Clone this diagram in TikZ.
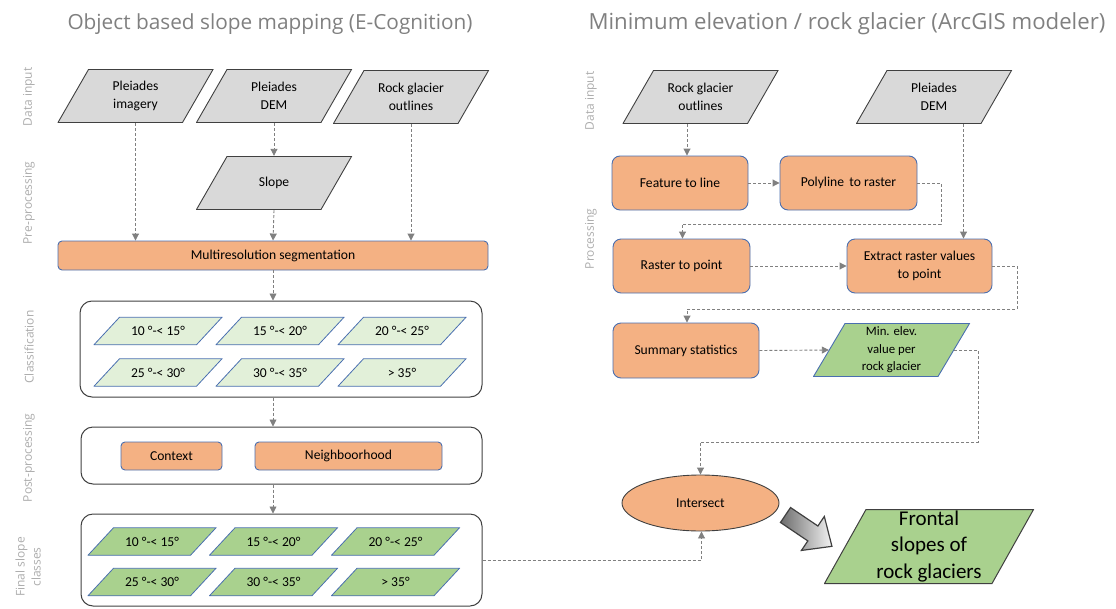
\documentclass[tikz,border=0pt]{standalone}
\usepackage{fontspec}
\setmainfont{Carlito}
\newfontfamily\headfont{Open Sans}
\usetikzlibrary{shapes.geometric,arrows.meta,positioning}

\definecolor{procfill}{HTML}{F4B183}
\definecolor{procdraw}{HTML}{4A6FB0}
\definecolor{paleclass}{HTML}{E2F0D9}
\definecolor{finalclass}{HTML}{A9D18E}
\definecolor{datafill}{HTML}{D9D9D9}
\definecolor{darkline}{HTML}{404040}
\definecolor{flowgray}{HTML}{808080}

\newcommand{\fsz}[2]{\fontsize{#1}{#2}\selectfont}

\tikzset{
  leanby/.store in=\leanlen, leanby=31pt,
  slabpaint/.style={draw=darkline, fill=datafill, line width=0.9pt},
  slab/.style={rectangle, inner sep=0pt, align=center,
    path picture={\path[slabpaint]
      ([xshift=\leanlen, yshift=-0.5pt]path picture bounding box.north west) --
      ([xshift=-0.5pt, yshift=-0.5pt]path picture bounding box.north east) --
      ([xshift=-\leanlen, yshift=0.5pt]path picture bounding box.south east) --
      ([xshift=0.5pt, yshift=0.5pt]path picture bounding box.south west) -- cycle;}},
  datain/.style={slab, leanby=31pt, minimum width=156pt, minimum height=54pt,
    font=\fsz{13.6}{18}},
  slopecls/.style={slab, leanby=26pt, minimum width=129pt, minimum height=28.5pt,
    font=\fsz{13.6}{16},
    slabpaint/.style={draw=procdraw, fill=paleclass, line width=0.8pt}},
  finalcls/.style={slopecls,
    slabpaint/.style={draw=procdraw, fill=finalclass, line width=0.8pt}},
  proc/.style={rectangle, rounded corners=8pt, draw=procdraw, fill=procfill,
    line width=0.9pt, inner sep=0pt, align=center, font=\fsz{13.6}{18}},
  holder/.style={rectangle, rounded corners=12pt, draw=darkline, line width=1pt},
  lane/.style={rotate=90, text=gray!65, font=\headfont\fsz{12}{16}, align=center},
  headline/.style={text=gray, font=\headfont\fsz{20.8}{24}},
  flow/.style={draw=flowgray, line width=0.9pt, dash pattern=on 3pt off 2pt,
    -{Triangle[length=7pt,width=7pt]}},
}

\begin{document}
\begin{tikzpicture}[x=1pt, y=-1pt]
    \useasboundingbox (0,0) rectangle (1116,608);

    % titles and lanes
    \node[headline] (titleL) at (270,24) {Object based slope mapping (E-Cognition)};
    \node[headline, font=\headfont\fsz{22.2}{24}] (titleR) at (847,24) {Minimum elevation / rock glacier (ArcGIS modeler)};
    \node[lane] (laneData) at (29,97) {Data input};
    \node[lane] (lanePre) at (29,203) {Pre-processing};
    \node[lane] (laneCls) at (29,347) {Classification};
    \node[lane] (lanePost) at (29,458) {Post-processing};
    \node[lane] (laneFin) at (28,567) {Final slope\\classes};
    \node[lane] (laneDataR) at (591,101) {Data input};
    \node[lane] (laneProc) at (591,239) {Processing};

    % E-Cognition side
    \node[datain] (imgL) at (135.5,96) {Pleiades\\imagery};
    \node[datain] (demL) at (274,96) {Pleiades\\DEM};
    \node[datain] (outL) at (411,97) {Rock glacier\\outlines};
    \node[datain] (slope) at (274,183) {Slope};
    \node[proc, rounded corners=4pt, minimum width=430pt, minimum height=29pt] (seg) at (273,255.5) {Multiresolution segmentation};

    \node[holder, minimum width=402pt, minimum height=96pt] (cls) at (281,349) {};
    \node[slopecls] (c1) at (158,331) {10 °-< 15°};
    \node[slopecls] (c2) at (280,331) {15 °-< 20°};
    \node[slopecls] (c3) at (402,331) {20 °-< 25°};
    \node[slopecls] (c4) at (158,372.5) {25 °-< 30°};
    \node[slopecls] (c5) at (280,372.5) {30 °-< 35°};
    \node[slopecls] (c6) at (402,372.5) {> 35°};

    \node[holder, minimum width=401pt, minimum height=57pt] (post) at (281.5,455.5) {};
    \node[proc, rounded corners=4pt, minimum width=101pt, minimum height=28pt] (ctx) at (171.5,456) {Context};
    \node[proc, rounded corners=4pt, minimum width=187pt, minimum height=28pt] (nbh) at (348.5,456) {Neighboorhood};

    \node[holder, minimum width=401pt, minimum height=92pt] (fin) at (281.5,560) {};
    \node[finalcls] (f1) at (152,541.5) {10 °-< 15°};
    \node[finalcls] (f2) at (273.5,541.5) {15 °-< 20°};
    \node[finalcls] (f3) at (395.5,541.5) {20 °-< 25°};
    \node[finalcls] (f4) at (152,582) {25 °-< 30°};
    \node[finalcls] (f5) at (273.5,582) {30 °-< 35°};
    \node[finalcls] (f6) at (395.5,582) {> 35°};

    % ArcGIS side
    \node[datain] (outR) at (700.5,97) {Rock glacier\\outlines};
    \node[datain] (demR) at (934,97) {Pleiades\\DEM};
    \node[proc, minimum width=136pt, minimum height=54pt] (feat) at (680,183) {Feature to line};
    \node[proc, minimum width=137pt, minimum height=54pt] (poly) at (848.5,183) {Polyline\, to raster};
    \node[proc, minimum width=137pt, minimum height=54pt] (rast) at (681.5,266) {Raster to point};
    \node[proc, minimum width=145pt, minimum height=54pt] (ext) at (919.5,266) {Extract raster values\\to point};
    \node[proc, minimum width=146pt, minimum height=55pt] (summ) at (686,350.5) {Summary statistics};
    \node[datain, leanby=32pt, minimum width=157pt, font=\fsz{12.8}{17.5},
      slabpaint/.style={draw=procdraw, fill=finalclass, line width=0.9pt}] (minel) at (891.5,350) {Min. elev.\\value per\\rock glacier};
    \node[ellipse, draw=darkline, fill=procfill, line width=0.9pt, minimum width=157pt, minimum height=56pt, font=\fsz{13.6}{18}] (isect) at (700.5,503) {Intersect};
    \node[datain, leanby=42pt, minimum width=210pt, minimum height=75pt, font=\fsz{21}{26.5},
      slabpaint/.style={draw=darkline, fill=finalclass, line width=1pt}] (front) at (929,546.5) {Frontal\\slopes of\\rock glaciers};

    % connectors, left
    \draw[flow] (imgL.south) -- (imgL.south |- seg.north);
    \draw[flow] (demL.south) -- (slope.north);
    \draw[flow] (slope.south) -- (seg.north);
    \draw[flow] (outL.south) -- (outL.south |- seg.north);
    \draw[flow] (seg.south) -- (seg.south |- cls.north);
    \draw[flow] (seg.south |- cls.south) -- (seg.south |- post.north);
    \draw[flow] (seg.south |- post.south) -- (seg.south |- fin.north);
    \draw[flow] (fin.east) -| ([xshift=1pt]isect.south);

    % connectors, right
    \coordinate (featin) at ([xshift=7pt]feat.north);
    \coordinate (extin) at ([xshift=44pt]ext.north);
    \draw[flow] (outR.south -| featin) -- (featin);
    \draw[flow] (demR.south -| extin) -- (extin);
    \draw[flow] (feat.east) -- (poly.west);
    \draw[flow] (poly.east) -- ++(24,0) -- ++(0,41) -| ([xshift=1pt]rast.north);
    \draw[flow] (rast.east) -- (ext.west);
    \draw[flow] (ext.east) -- ++(25,0) -- ++(0,43) -| ([xshift=1pt]summ.north);
    \draw[flow] (summ.east) -- ([xshift=16pt]minel.west);
    \draw[flow] ([xshift=-16pt]minel.east) -- ++(24,0) -- ++(0,92) -| (isect.north);

    % big arrow to the result
    \coordinate (bigtail) at (785.5,515);
    \begin{scope}[shift={(bigtail)}, rotate=-34]
      \draw[darkline, line width=1.2pt, line join=miter, left color=gray!85!black, right color=gray!10]
        (0,-9) -- (33,-9) -- (33,-20.5) -- (56,0) -- (33,20.5) -- (33,9) -- (0,9) -- cycle;
    \end{scope}
\end{tikzpicture}
\end{document}
